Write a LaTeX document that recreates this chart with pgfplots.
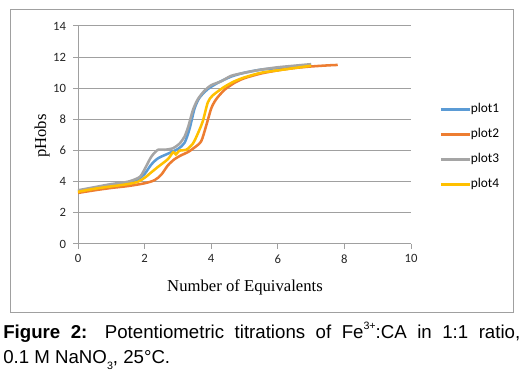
\documentclass[border=0pt]{standalone}
\usepackage{pgfplots}
\pgfplotsset{compat=1.18}
\usepackage{fontspec}
\setmainfont{Liberation Sans}
\newfontfamily\calibri{Carlito}
\newfontfamily\tnr{Liberation Serif}
\definecolor{c1}{HTML}{5B9BD5}
\definecolor{c2}{HTML}{ED7D31}
\definecolor{c3}{HTML}{A5A5A5}
\definecolor{c4}{HTML}{FFC000}
\definecolor{gridc}{HTML}{A0A0A0}
\begin{document}
\begin{tikzpicture}
\begin{scope}[x=0.75pt,y=0.75pt]
\path[use as bounding box] (0,0) rectangle (523,374);
\draw[gridc, line width=0.75pt] (10,62) rectangle (513,364);
\end{scope}
\begin{axis}[
  at={(58.5pt,97.5pt)}, anchor=south west,
  scale only axis, width=249.75pt, height=163.5pt,
  xmin=0, xmax=10, ymin=0, ymax=14,
  xtick={0,2,...,10}, ytick={0,2,...,14},
  axis x line=bottom, axis y line=left,
  axis line style={-, gridc, line width=0.75pt},
  ymajorgrids, grid style={gridc, line width=0.75pt},
  tick align=outside, major tick length=3.5pt,
  tick style={gridc, line width=0.75pt},
  tick label style={font=\calibri\fontsize{9.5}{10}\selectfont, text=black!85},
  /pgf/number format/assume math mode=true,
  xticklabel style={yshift=-1pt},
  yticklabel style={xshift=-2pt},
  clip=false,
  legend style={draw=none, fill=none, at={(1.085,0.645)}, anchor=north west,
    font=\calibri\fontsize{10}{11}\selectfont, row sep=9.75pt,
    legend cell align=left, inner sep=0pt,
    nodes={inner sep=0pt, text height=7pt, text depth=2pt}},
  legend image code/.code={\draw[#1] (0pt,0pt) -- (21.5pt,0pt);},
  every axis plot/.append style={line width=1.9pt, smooth, tension=0.45},
]
\addplot[c1] coordinates {
(0,3.4) (0.5,3.6) (1.0,3.8) (1.5,3.95) (1.8,4.15) (2.0,4.5) (2.2,5.1) (2.4,5.5) (2.7,5.8) (3.0,6.1) (3.2,6.5) (3.35,7.4) (3.5,8.7) (3.65,9.4) (3.9,9.95) (4.2,10.35) (4.6,10.75) (5.0,11.0) (5.5,11.2) (6.0,11.3) (6.5,11.4) (7.0,11.5)};
\addlegendentry{plot1}
\addplot[c2] coordinates {
(0,3.28) (0.5,3.45) (1.0,3.6) (1.5,3.72) (2.0,3.9) (2.3,4.1) (2.5,4.45) (2.7,5.05) (2.9,5.45) (3.1,5.7) (3.3,5.9) (3.5,6.2) (3.7,6.6) (3.85,7.6) (4.0,8.7) (4.15,9.3) (4.4,9.9) (4.7,10.35) (5.0,10.65) (5.5,10.95) (6.0,11.15) (6.5,11.3) (7.0,11.4) (7.5,11.47) (7.8,11.5)};
\addlegendentry{plot2}
\addplot[c3] coordinates {
(0,3.45) (0.5,3.65) (1.0,3.85) (1.5,4.0) (1.85,4.3) (2.0,4.8) (2.2,5.6) (2.4,6.05) (2.6,6.05) (2.85,6.15) (3.05,6.45) (3.2,6.9) (3.32,7.6) (3.45,8.6) (3.6,9.3) (3.8,9.85) (4.0,10.2) (4.3,10.45) (4.6,10.8) (5.0,11.0) (5.5,11.2) (6.0,11.35) (6.5,11.45) (7.0,11.55)};
\addlegendentry{plot3}
\addplot[c4] coordinates {
(0,3.35) (0.5,3.55) (1.0,3.7) (1.5,3.85) (1.8,4.0) (2.0,4.25) (2.2,4.6) (2.4,4.95) (2.7,5.45) (2.86,5.9) (2.94,5.75) (3.05,6.0) (3.25,6.05) (3.45,6.45) (3.6,7.1) (3.75,7.9) (3.9,9.1) (4.05,9.55) (4.4,10.1) (4.7,10.45) (5.0,10.7) (5.5,11.0) (6.0,11.15) (6.5,11.3) (7.0,11.45)};
\addlegendentry{plot4}
\end{axis}
\begin{scope}[x=0.75pt,y=0.75pt]
\node[font=\tnr\fontsize{12.5}{13}\selectfont] at (245,87) {Number of Equivalents};
\node[font=\tnr\fontsize{12.5}{13}\selectfont, rotate=90] at (42,238) {pHobs};
\node[anchor=north west, text width=387.75pt, align=justify, inner sep=0pt,
  font=\fontsize{14}{18.75}\selectfont] at (3,52)
  {\textbf{Figure 2:} Potentiometric titrations of Fe\raisebox{0.45em}{\fontsize{8}{8}\selectfont 3+}:CA in 1:1 ratio,\linebreak 0.1 M NaNO\raisebox{-0.35em}{\fontsize{8}{8}\selectfont 3}, 25°C.};
\end{scope}
\end{tikzpicture}
\end{document}
